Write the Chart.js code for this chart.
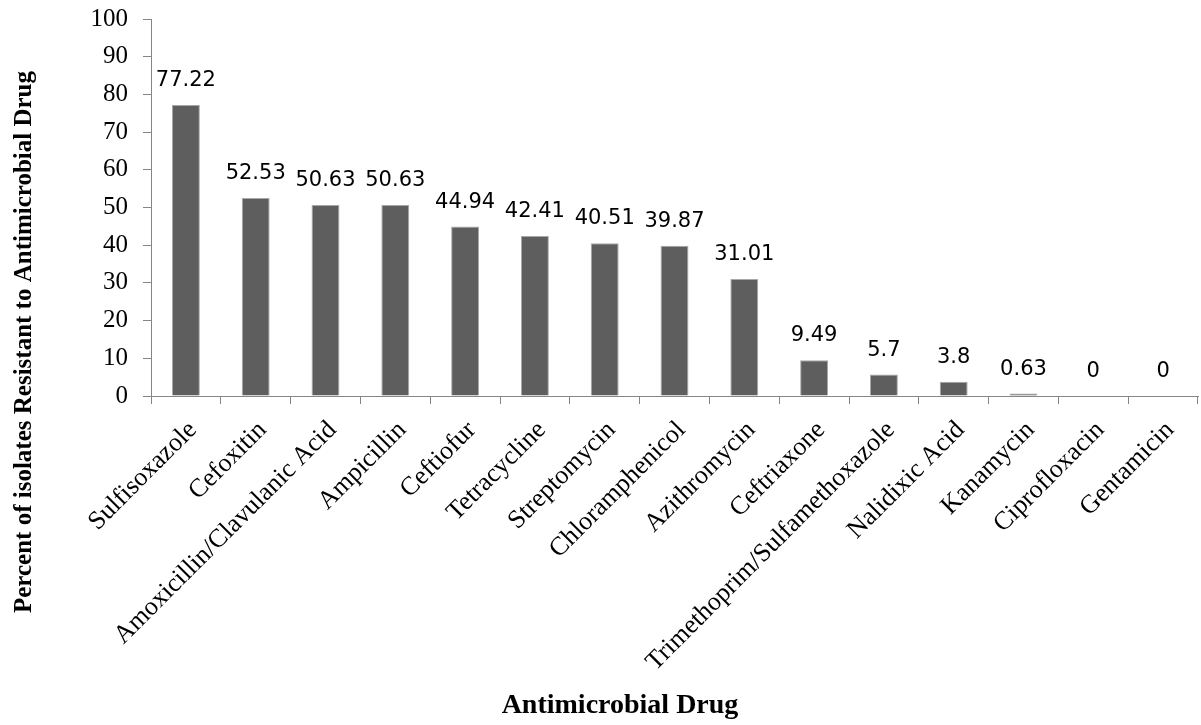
<!DOCTYPE html>
<html>
<head>
<meta charset="utf-8">
<script src="https://cdn.jsdelivr.net/npm/chart.js@4"></script>
<style>
  html, body { margin: 0; padding: 0; background: #fff; }
  #wrap { width: 1201px; height: 725px; }
</style>
</head>
<body>
<div id="wrap"><canvas id="c" width="1201" height="725"></canvas></div>
<script>
// Antimicrobial resistance of isolates (percent resistant per drug)
const drugs = [
  'Sulfisoxazole', 'Cefoxitin', 'Amoxicillin/Clavulanic Acid', 'Ampicillin',
  'Ceftiofur', 'Tetracycline', 'Streptomycin', 'Chloramphenicol',
  'Azithromycin', 'Ceftriaxone', 'Trimethoprim/Sulfamethoxazole',
  'Nalidixic Acid', 'Kanamycin', 'Ciprofloxacin', 'Gentamicin'
];
const percentResistant = [
  77.22, 52.53, 50.63, 50.63, 44.94, 42.41, 40.51, 39.87,
  31.01, 9.49, 5.7, 3.8, 0.63, 0, 0
];
const yTicks = [0, 10, 20, 30, 40, 50, 60, 70, 80, 90, 100];
const yTitle = 'Percent of isolates Resistant to Antimicrobial Drug';
const xTitle = 'Antimicrobial Drug';

const serif = '"Liberation Serif", "Times New Roman", serif';
const axisGray = '#868686';

// Value labels above each bar
const valueLabels = {
  id: 'valueLabels',
  afterDatasetsDraw(chart) {
    const ctx = chart.ctx;
    const meta = chart.getDatasetMeta(0);
    ctx.save();
    ctx.font = '21px "DejaVu Sans", sans-serif';
    ctx.fillStyle = '#000';
    ctx.textAlign = 'center';
    ctx.textBaseline = 'alphabetic';
    meta.data.forEach((bar, i) => {
      ctx.fillText(String(percentResistant[i]), bar.x, bar.y - 19);
    });
    ctx.restore();
  }
};

// Axis titles placed by hand
const axisTitles = {
  id: 'axisTitles',
  afterDraw(chart) {
    const ctx = chart.ctx;
    ctx.save();
    ctx.fillStyle = '#000';
    ctx.textAlign = 'center';
    ctx.textBaseline = 'middle';
    ctx.font = 'bold 25px ' + serif;
    ctx.translate(25, 342);
    ctx.rotate(-Math.PI / 2);
    ctx.fillText(yTitle, 0, 0);
    ctx.restore();

    ctx.save();
    ctx.fillStyle = '#000';
    ctx.textAlign = 'center';
    ctx.textBaseline = 'alphabetic';
    ctx.font = 'bold 28px ' + serif;
    ctx.fillText(xTitle, 620, 713);
    ctx.restore();
  }
};

new Chart(document.getElementById('c'), {
  type: 'bar',
  data: {
    labels: drugs,
    datasets: [{
      data: percentResistant,
      backgroundColor: '#5e5e5e',
      borderColor: '#a8a8a8',
      borderWidth: 1,
      barPercentage: 0.4,
      categoryPercentage: 1.0
    }]
  },
  options: {
    responsive: false,
    animation: false,
    events: [],
    layout: { padding: { top: 19, right: 3, bottom: 0, left: 0 } },
    plugins: {
      legend: { display: false },
      tooltip: { enabled: false }
    },
    scales: {
      x: {
        afterFit(scale) {
          scale.height = 329;
          scale.paddingLeft = 0;
          scale.paddingRight = 0;
        },
        grid: {
          display: true,
          drawOnChartArea: false,
          drawTicks: true,
          tickLength: 8,
          color: axisGray,
          offset: true
        },
        border: { display: true, color: axisGray, width: 1 },
        ticks: {
          font: { family: serif, size: 26 },
          color: '#000',
          minRotation: 45,
          maxRotation: 45,
          padding: 11,
          labelOffset: 7,
          autoSkip: false
        }
      },
      y: {
        min: 0,
        max: 100,
        afterFit(scale) {
          scale.width = 151;
          scale.paddingTop = 0;
          scale.paddingBottom = 0;
        },
        afterBuildTicks(scale) { scale.ticks = yTicks.map(v => ({ value: v })); },
        grid: {
          display: true,
          drawOnChartArea: false,
          drawTicks: true,
          tickLength: 8,
          color: axisGray
        },
        border: { display: true, color: axisGray, width: 1 },
        ticks: {
          font: { family: serif, size: 25 },
          color: '#000',
          padding: 15
        }
      }
    }
  },
  plugins: [valueLabels, axisTitles]
});
</script>
</body>
</html>
